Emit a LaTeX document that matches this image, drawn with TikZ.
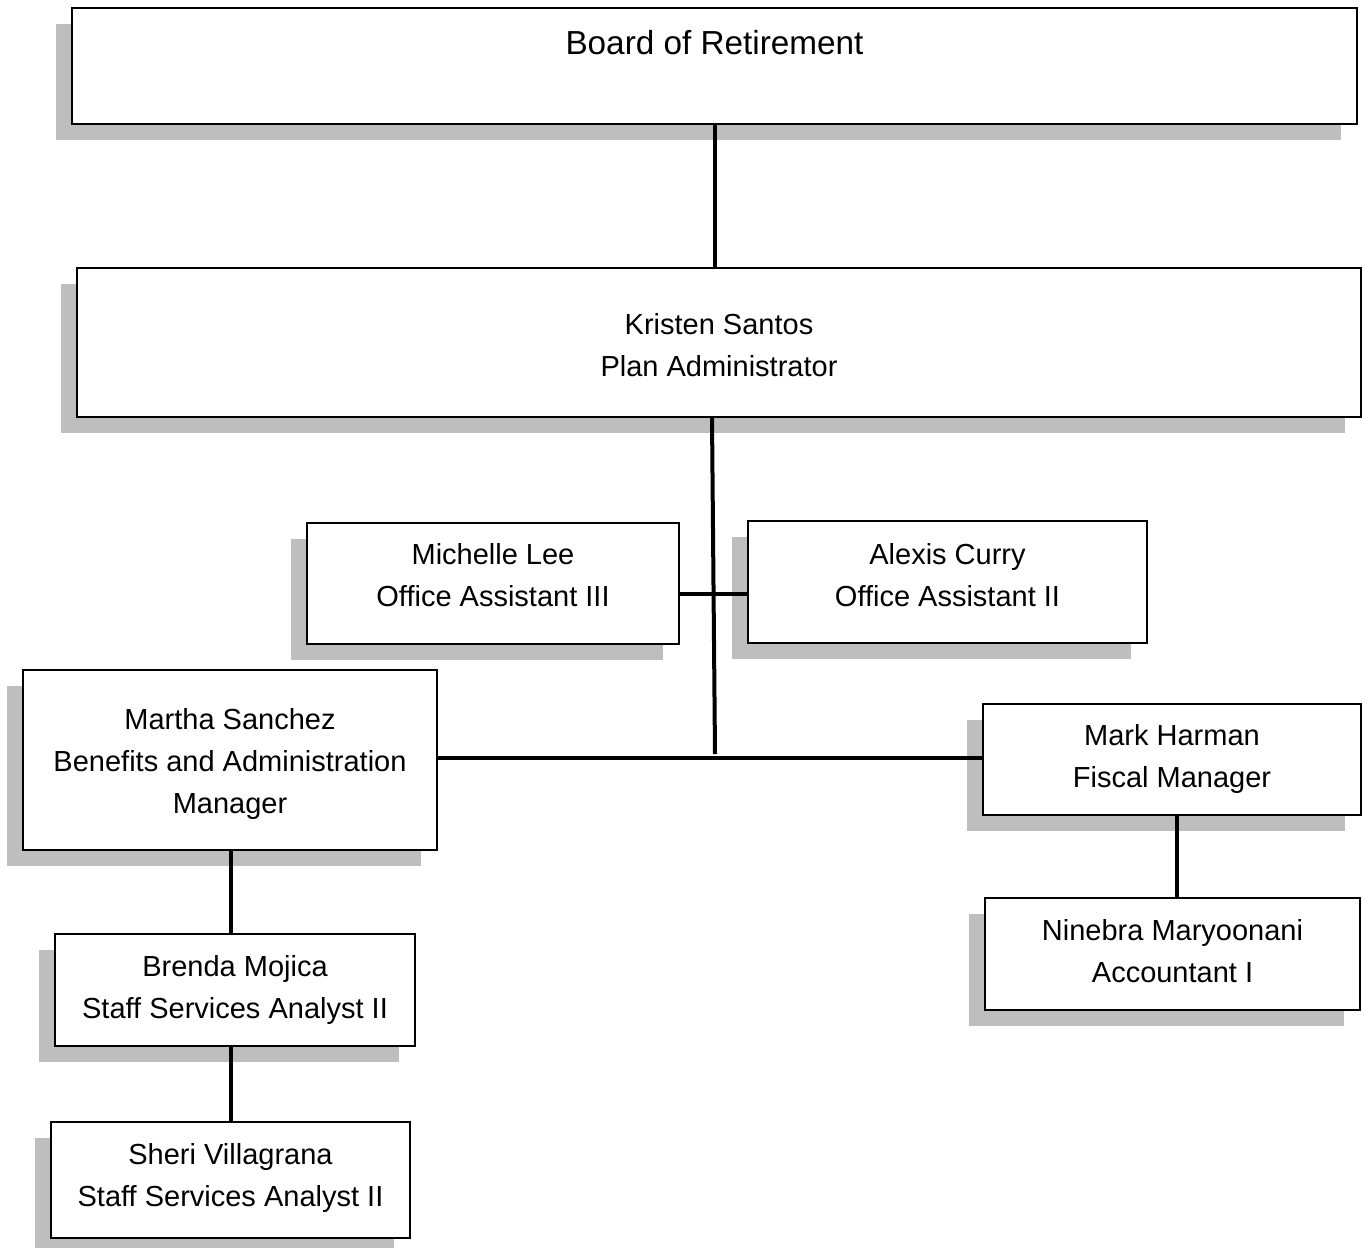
\documentclass[tikz,border=0pt]{standalone}
\usepackage{fontspec}
\setmainfont{Liberation Sans}
\usetikzlibrary{shadows}
\definecolor{shadowgray}{RGB}{190,190,190}
\begin{document}
\begin{tikzpicture}[x=1pt,y=-1pt,
  box/.style={draw=black, line width=2pt, fill=white, rectangle, inner sep=0pt,
    drop shadow={shadow xshift=-16pt, shadow yshift=-16pt, fill=shadowgray, opacity=1}},
  txt/.style={align=center, inner sep=0pt, anchor=north, font=\fontsize{29}{42}\selectfont},
  conn/.style={line width=4pt, line cap=butt}]
\useasboundingbox (0,0) rectangle (1362,1247);

% boxes
\node[box, minimum width=1285pt, minimum height=116pt] (bor) at (714.5,66) {};
\node[box, minimum width=1284pt, minimum height=149pt] (ks) at (719,342.5) {};
\node[box, minimum width=372pt, minimum height=121pt] (ml) at (493,583.5) {};
\node[box, minimum width=399pt, minimum height=122pt] (ac) at (947.5,582) {};
\node[box, minimum width=414pt, minimum height=180pt] (ms) at (230,760) {};
\node[box, minimum width=378pt, minimum height=111pt] (mh) at (1172,759.5) {};
\node[box, minimum width=375pt, minimum height=112pt] (nm) at (1172.5,954) {};
\node[box, minimum width=360pt, minimum height=112pt] (bm) at (235,990) {};
\node[box, minimum width=359pt, minimum height=116pt] (sv) at (230.5,1180) {};

% texts
\node[txt, font=\fontsize{33.3}{40}\selectfont] (bor-t) at (714.5,30) {Board of Retirement};
\node[txt] (ks-t) at (719,313.5) {Kristen Santos\\Plan Administrator};
\node[txt] (ml-t) at (493,543) {Michelle Lee\\Office Assistant III};
\node[txt] (ac-t) at (947.5,543) {Alexis Curry\\Office Assistant II};
\node[txt] (ms-t) at (230,708.5) {Martha Sanchez\\Benefits and Administration\\Manager};
\node[txt] (mh-t) at (1172,724.5) {Mark Harman\\Fiscal Manager};
\node[txt] (nm-t) at (1172.5,919.5) {Ninebra Maryoonani\\Accountant I};
\node[txt] (bm-t) at (235,955.5) {Brenda Mojica\\Staff Services Analyst II};
\node[txt] (sv-t) at (230.5,1143.5) {Sheri Villagrana\\Staff Services Analyst II};

% connectors
\coordinate (jn) at (715,754);
\coordinate (hy) at (0,594);
\coordinate (hz) at (0,758);
\draw[conn] ([xshift=0.5pt]bor.south) -- ([xshift=0.5pt]bor.south |- ks.north);
\draw[conn] ([xshift=-7pt]ks.south) -- (jn);
\draw[conn] (ml.east |- hy) -- (ac.west |- hy);
\draw[conn] (ms.east |- hz) -- (mh.west |- hz);
\draw[conn] ([xshift=4.5pt]mh.south) -- ([xshift=4.5pt]mh.south |- nm.north);
\draw[conn] ([xshift=1pt]ms.south) -- ([xshift=1pt]ms.south |- bm.north);
\draw[conn] ([xshift=1pt]ms.south |- bm.south) -- ([xshift=1pt]ms.south |- sv.north);
\end{tikzpicture}
\end{document}
